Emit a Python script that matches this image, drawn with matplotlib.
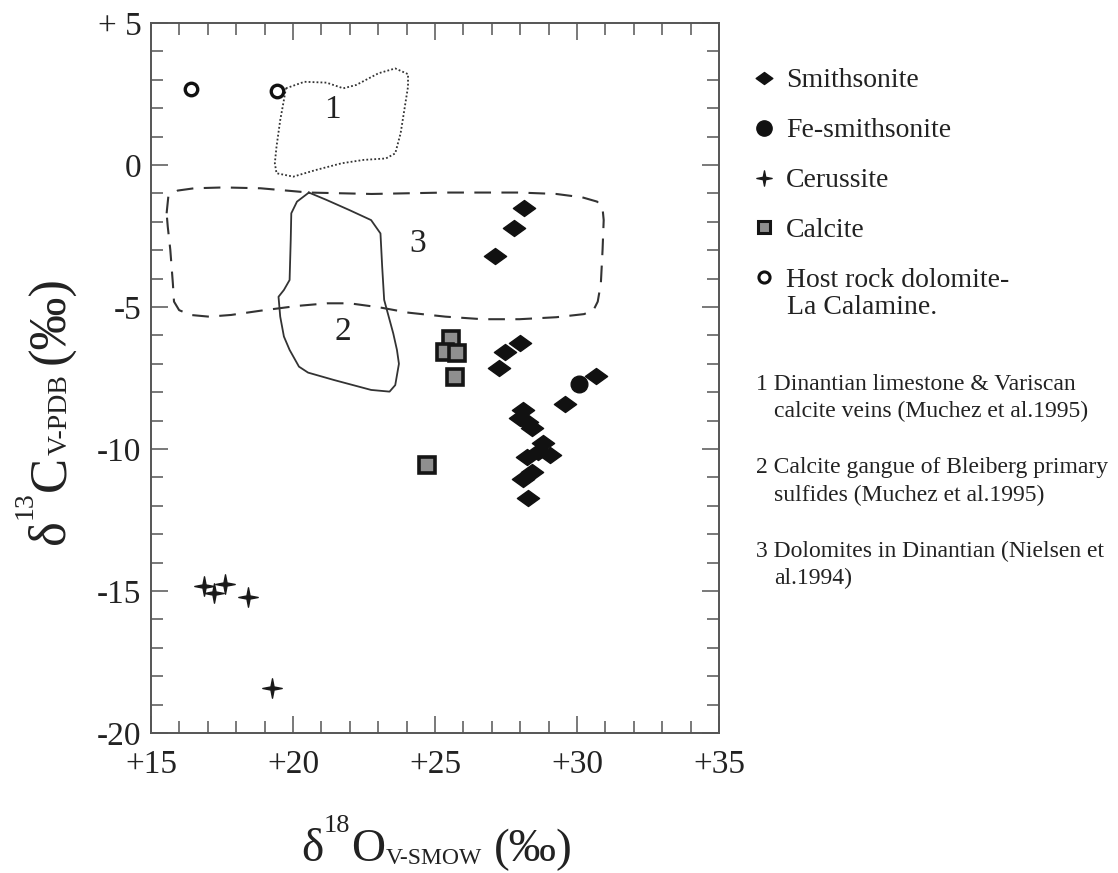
import numpy as np
import matplotlib
matplotlib.use('Agg')
import matplotlib.pyplot as plt
import matplotlib.transforms as mtransforms
from matplotlib.path import Path
from matplotlib.lines import Line2D

plt.rcParams['font.family'] = ['Liberation Serif', 'DejaVu Serif']

ink = '#222222'
frame = '#555555'

# isotope data (d18O V-SMOW, d13C V-PDB)
smith_x = [28.13, 27.79, 27.10, 28.01, 27.45, 27.27, 30.67, 29.58, 28.10, 27.99, 28.25,
           28.40, 28.81, 29.05, 28.64, 28.23, 28.40, 28.11, 28.29]
smith_y = [-1.52, -2.23, -3.20, -6.28, -6.60, -7.15, -7.43, -8.43, -8.63, -8.92, -9.05,
           -9.27, -9.80, -10.21, -10.09, -10.27, -10.80, -11.04, -11.74]
fesmith_x = [30.08]
fesmith_y = [-7.72]
ceruss_x = [16.87, 17.61, 17.22, 18.43, 19.25]
ceruss_y = [-14.82, -14.75, -15.08, -15.22, -18.43]
calcite_x = [25.55, 25.35, 25.76, 25.70, 24.73]
calcite_y = [-6.14, -6.57, -6.63, -7.48, -10.56]
host_x = [16.42, 19.42]
host_y = [2.67, 2.62]

# literature fields
field1_x = [19.75, 20.40, 21.18, 21.77, 22.23, 23.01, 23.60, 24.05, 24.05, 23.92, 23.79,
            23.60, 23.27, 22.49, 21.71, 20.79, 20.01, 19.42, 19.36, 19.42, 19.55, 19.68, 19.75]
field1_y = [2.70, 2.93, 2.90, 2.70, 2.82, 3.23, 3.40, 3.20, 2.76, 1.94, 1.12,
            0.41, 0.23, 0.18, 0.06, -0.18, -0.41, -0.29, 0.06, 0.65, 1.58, 2.29, 2.70]
field2_x = [20.56, 21.18, 21.97, 22.75, 23.08, 23.14, 23.21, 23.53, 23.66, 23.73, 23.60,
            23.40, 22.75, 21.44, 20.53, 20.21, 19.88, 19.68, 19.55, 19.49, 19.68, 19.88,
            19.92, 19.94, 20.14, 20.56]
field2_y = [-0.97, -1.23, -1.58, -1.94, -2.41, -3.58, -4.75, -5.93, -6.51, -7.00, -7.75,
            -7.98, -7.92, -7.57, -7.31, -7.10, -6.51, -6.04, -5.34, -4.64, -4.40, -4.05,
            -2.64, -1.70, -1.29, -0.97]
field3_x = [15.55, 15.61, 15.94, 16.52, 17.56, 18.86, 20.56, 22.77, 25.37, 27.97, 29.27,
            30.19, 30.71, 30.90, 30.94, 30.90, 30.84, 30.73, 30.58, 30.25, 29.27, 27.97,
            26.67, 25.37, 24.07, 23.03, 21.99, 21.21, 20.17, 18.86, 17.82, 17.04, 16.39,
            15.99, 15.81, 15.77, 15.68, 15.59, 15.55]
field3_y = [-1.70, -1.11, -0.90, -0.82, -0.79, -0.82, -0.97, -1.02, -0.97, -0.97, -1.02,
            -1.14, -1.29, -1.53, -1.94, -2.99, -4.17, -4.81, -5.11, -5.25, -5.36, -5.43,
            -5.43, -5.34, -5.20, -5.01, -4.87, -4.87, -4.96, -5.13, -5.28, -5.34, -5.28,
            -5.11, -4.81, -4.17, -2.99, -2.17, -1.70]
field_names = ['1', '2', '3']
field_label_x = [21.38, 21.77, 24.38]
field_label_y = [1.94, -5.87, -2.76]

legend_labels = ['Smithsonite', 'Fe-smithsonite', 'Cerussite', 'Calcite',
                 'Host rock dolomite-']
legend_extra = 'La Calamine.'
note_numbers = ['1', '2', '3']
note_first = ['Dinantian limestone & Variscan', 'Calcite gangue of Bleiberg primary',
              'Dolomites in Dinantian (Nielsen et']
note_second = ['calcite veins (Muchez et al.1995)', 'sulfides (Muchez et al.1995)', 'al.1994)']

x_major = [15, 20, 25, 30, 35]
x_labels = ['+15', '+20', '+25', '+30', '+35']
y_major = [5, 0, -5, -10, -15, -20]
y_labels = ['+ 5', '0', '-5', '-10', '-15', '-20']

diamond = Path([(-1, 0), (0, 0.72), (1, 0), (0, -0.72), (-1, 0)],
               [Path.MOVETO, Path.LINETO, Path.LINETO, Path.LINETO, Path.CLOSEPOLY])
star4 = Path([(0, 1), (0.16, 0.16), (1, 0), (0.16, -0.16), (0, -1), (-0.16, -0.16),
              (-1, 0), (-0.16, 0.16), (0, 1)],
             [Path.MOVETO] + [Path.LINETO] * 7 + [Path.CLOSEPOLY])

W, H = 1118, 873
fig = plt.figure(figsize=(W / 100, H / 100), dpi=100)
ax = fig.add_axes([151 / W, 1 - 733 / H, 568 / W, 710 / H])

ax.plot(field1_x, field1_y, color='#333333', lw=1.3, ls=(0, (1, 1.2)))
ax.plot(field2_x, field2_y, color='#333333', lw=1.3, ls='-')
ax.plot(field3_x, field3_y, color='#333333', lw=1.5, ls=(0, (8, 5)))
for name, lx, ly in zip(field_names, field_label_x, field_label_y):
    ax.text(lx, ly, name, fontsize=24, color=ink, ha='center', va='center')

ax.plot(smith_x, smith_y, ls='none', marker=diamond, ms=16, color='#111111')
ax.plot(fesmith_x, fesmith_y, ls='none', marker='o', ms=12, color='#111111')
ax.plot(ceruss_x, ceruss_y, ls='none', marker=star4, ms=14, color='#1a1a1a')
ax.plot(calcite_x, calcite_y, ls='none', marker='s', ms=11, mfc='#8f8f8f',
        mec='#151515', mew=2.6)
ax.plot(host_x, host_y, ls='none', marker='o', ms=9, mfc='white', mec='#111111', mew=2.4)

ax.set_xlim(15, 35)
ax.set_ylim(-20, 5)
ax.set_xticks(x_major)
ax.set_xticklabels(x_labels)
ax.set_xticks(np.arange(15, 36, 1), minor=True)
ax.set_yticks(y_major)
ax.set_yticklabels(y_labels)
ax.set_yticks(np.arange(-20, 6, 1), minor=True)
ax.tick_params(which='both', direction='in', top=True, right=True, color=frame,
               width=1.1, labelsize=24, labelcolor=ink)
ax.tick_params(which='major', length=12)
ax.tick_params(which='minor', length=8.5)
ax.tick_params(axis='x', pad=12)
ax.tick_params(axis='y', pad=7)
for sp in ax.spines.values():
    sp.set_color(frame)
    sp.set_linewidth(1.4)

# legend
handles = [
    Line2D([], [], ls='none', marker=diamond, ms=12, color='#111111'),
    Line2D([], [], ls='none', marker='o', ms=11, color='#111111'),
    Line2D([], [], ls='none', marker=star4, ms=11, color='#1a1a1a'),
    Line2D([], [], ls='none', marker='s', ms=9, mfc='#8f8f8f', mec='#151515', mew=2.2),
    Line2D([], [], ls='none', marker='o', ms=8, mfc='white', mec='#111111', mew=2.2),
]
leg = fig.legend(handles, legend_labels, loc='upper left', bbox_to_anchor=(753 / W, 1 - 68 / H),
                 frameon=False, fontsize=20, handlelength=0.8, handletextpad=0.4,
                 labelspacing=0.88, borderpad=0, borderaxespad=0)
for t in leg.get_texts():
    t.set_color(ink)
fig.text(787 / W, 1 - 307 / H, legend_extra, fontsize=20, color=ink, va='center')

# notes on the fields
note_y = [384, 468, 551]
for num, l1, l2, ny in zip(note_numbers, note_first, note_second, note_y):
    fig.text(756 / W, 1 - ny / H, num + ' ' + l1, fontsize=17, color=ink, va='center')
    fig.text(774 / W, 1 - (ny + 27) / H, l2, fontsize=17, color=ink, va='center')


def draw_label(pieces, x0, y0, rotation=0):
    r = fig.canvas.get_renderer()
    tr = mtransforms.IdentityTransform()
    texts = []
    for s, size, off, gap in pieces:
        t = fig.text(0, 0, s, fontsize=size, color=ink, transform=tr, ha='left',
                     va='baseline', rotation=rotation, rotation_mode='anchor')
        texts.append((t, off, gap))
    sizes = []
    for t, _, gap in texts:
        bb = t.get_window_extent(r)
        sizes.append((bb.width if rotation == 0 else bb.height) + gap)
    pos = -sum(sizes) / 2
    for (t, off, gap), w in zip(texts, sizes):
        if rotation == 0:
            t.set_position((x0 + pos, y0 + off))
        else:
            t.set_position((x0 - off, y0 + pos))
        pos += w


draw_label([('δ', 34, 0, 0), ('18', 19, 29, 1), ('O', 34, 0, 1), ('V-SMOW', 17, -3, 12),
            ('(‰)', 34, 0, 0)], 437, H - 861)
draw_label([('δ', 38, 0, 0), ('13', 20, 32, 1), ('C', 38, 0, 1), ('V-PDB', 20, -3, 10),
            ('(‰)', 38, 0, 0)], 64, H - 410, rotation=90)

fig.savefig('out.png', dpi=100)
